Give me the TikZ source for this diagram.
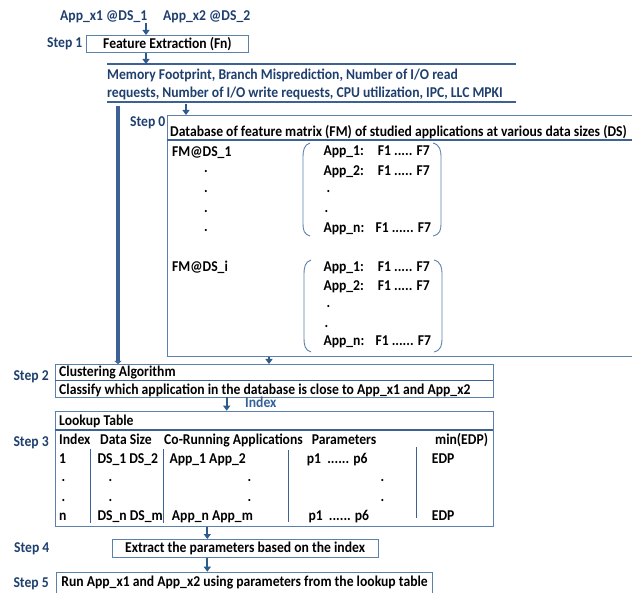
\documentclass[tikz,border=0pt]{standalone}
\usepackage{fontspec}
\setmainfont{Carlito}[FakeStretch=0.91]
\usetikzlibrary{arrows.meta}
\definecolor{stepblue}{HTML}{1F3F6E}
\definecolor{boxblue}{HTML}{5B80AA}
\definecolor{lineblue}{HTML}{3B6293}
\definecolor{arrblue}{HTML}{2F5A8C}
\definecolor{idxblue}{HTML}{34609A}
\begin{document}
\begin{tikzpicture}[x=1pt, y=-1pt,
    every node/.style={font=\fontsize{15}{17}\selectfont\bfseries},
    txt/.style={anchor=base west, inner sep=0pt},
    stp/.style={txt, text=stepblue},
    box/.style={draw=boxblue, line width=0.8pt, anchor=north west, inner sep=0pt},
    arr/.style={draw=arrblue, line width=2.2pt, -{Triangle[length=5pt, width=7pt]}},
    bar/.style={draw=lineblue, line width=4pt, -{Triangle[length=3pt, width=7pt]}},
    divline/.style={draw=lineblue, line width=1.6pt},
    colline/.style={draw=lineblue, line width=1.3pt},
    brk/.style={draw=boxblue, line width=0.9pt}]
\useasboundingbox (0,0) rectangle (632,593);
% inputs and step 1
\node[stp] (x1) at (60,21) {App\_x1 @DS\_1};
\node[stp] (x2) at (163,21) {App\_x2 @DS\_2};
\coordinate (x1s) at (146,23);
\node[stp] (s1) at (47,48) {Step 1};
\node[box, minimum width=162pt, minimum height=17pt] (fe) at (86,35) {Feature Extraction (Fn)};
\draw[arr] (x1s) -- (x1s |- fe.north);
% features
\coordinate (ft) at (146,64);
\draw[divline] (107,64) -- (516,64);
\node[stp] (f1) at (107,79.5) {Memory Footprint, Branch Misprediction, Number of I/O read};
\node[stp] (f2) at (107,97.5) {requests, Number of I/O write requests, CPU utilization, IPC, LLC MPKI};
\draw[divline] (107,102) -- (516,102);
\coordinate (fb) at (186,104);
\coordinate (bt) at (118,106);
\draw[arr] (fe.south -| x1s) -- (ft);
% step 0: database
\node[stp] (s0) at (130,127) {Step 0};
\node[box, minimum width=480pt, minimum height=241pt] (db) at (167,115) {};
\node[txt] (dbt) at (170,136.5) {Database of feature matrix (FM) of studied applications at various data sizes (DS)};
\draw[divline] (167,140) -- (632,140);
\draw[arr] (fb) -- (fb |- db.north);
\node[txt] (fm1) at (172,157) {FM@DS\_1};
\foreach \y in {173,193,213,231.5}
  \node[txt] (fmd\y) at (204,\y) {.};
\node[txt] (fmi) at (172,272) {FM@DS\_i};
% first matrix
\draw[brk] (310,143) .. controls (304,145) and (303,150) .. (303,158) -- (303,222) .. controls (303,231) and (304,234) .. (310,236);
\draw[brk] (433,143) .. controls (440,145) and (441,150) .. (441,158) -- (441,222) .. controls (441,231) and (440,234) .. (433,236);
\node[txt] (a11) at (323.3,156) {\makebox[54.4pt][l]{App\_1:}F1 ..... F7};
\node[txt] (a12) at (323.3,175.5) {\makebox[54.4pt][l]{App\_2:}F1 ..... F7};
\node[txt] (a1d1) at (326.5,193) {.};
\node[txt] (a1d2) at (324.5,212.5) {.};
\node[txt] (a1n) at (323.3,232.5) {\makebox[52pt][l]{App\_n:}F1 ...... F7};
% second matrix
\draw[brk] (311,260) .. controls (305,262) and (304,267) .. (304,275) -- (304,337) .. controls (304,346) and (305,350) .. (311,352);
\draw[brk] (434,260) .. controls (441,262) and (442,267) .. (442,275) -- (442,337) .. controls (442,346) and (441,350) .. (434,352);
\node[txt] (a21) at (323.3,272) {\makebox[54.4pt][l]{App\_1:}F1 ..... F7};
\node[txt] (a22) at (323.3,291) {\makebox[54.4pt][l]{App\_2:}F1 ..... F7};
\node[txt] (a2d1) at (326.5,308) {.};
\node[txt] (a2d2) at (324.5,328) {.};
\node[txt] (a2n) at (323.3,346) {\makebox[52pt][l]{App\_n:}F1 ...... F7};
% step 2: clustering
\node[stp] (s2) at (13.3,380.7) {Step 2};
\node[box, minimum width=438pt, minimum height=32.7pt] (cl) at (55.3,364) {};
\draw[divline] (55.3,380.7) -- (493.3,380.7);
\node[txt] (clt) at (59,376.7) {Clustering Algorithm};
\node[txt] (clc) at (59,394.5) {Classify which application in the database is close to App\_x1 and App\_x2};
\draw[bar] (bt) -- (bt |- cl.north);
\draw[arr] (db.south -| 269,0) -- (cl.north -| 269,0);
% step 3: lookup table
\node[stp] (s3) at (13.3,446.7) {Step 3};
\node[box, minimum width=438pt, minimum height=115.3pt] (lt) at (55.3,410.7) {};
\draw[divline] (55.3,430) -- (493.3,430);
\draw[arr] (cl.south -| 226.7,0) -- (lt.north -| 226.7,0);
\node[txt, text=idxblue] (idx) at (245,408) {Index};
\node[txt] (ltt) at (59,425) {Lookup Table};
\node[txt] (h1) at (59,444.3) {Index};
\node[txt] (h2) at (100,444.3) {Data Size};
\node[txt] (h3) at (164,444.3) {Co-Running Applications};
\node[txt] (h4) at (311.7,444.3) {Parameters};
\node[txt] (h5) at (435,444.3) {min(EDP)};
\node[txt] (r11) at (59,463.3) {1};
\node[txt] (r12) at (97.3,463.3) {DS\_1 DS\_2};
\node[txt] (r13) at (169.3,463.3) {App\_1 App\_2};
\node[txt] (r14) at (306.7,463.3) {p1 \ ...... p6};
\node[txt] (r15) at (431.7,463.3) {EDP};
\foreach \y in {482,501.5} {
  \node[txt] (di\y) at (61.5,\y) {.};
  \node[txt] (dd\y) at (108.5,\y) {.};
  \node[txt] (dc\y) at (247.5,\y) {.};
  \node[txt] (dp\y) at (380.5,\y) {.};
}
\node[txt] (rn1) at (59,520.7) {n};
\node[txt] (rn2) at (97.3,520.7) {DS\_n DS\_m};
\node[txt] (rn3) at (171.7,520.7) {App\_n App\_m};
\node[txt] (rn4) at (308.3,520.7) {p1 \ ...... p6};
\node[txt] (rn5) at (431.7,520.7) {EDP};
\draw[colline] (90.7,449) -- (90.7,522.7);
\draw[colline] (163.3,449) -- (163.3,522.7);
\draw[colline] (288.3,450) -- (288.3,522);
\draw[colline] (416.7,447) -- (416.7,518);
% step 4 and 5
\node[stp] (s4) at (14,552.3) {Step 4};
\node[box, minimum width=266pt, minimum height=18.3pt] (ex) at (111.7,539) {Extract the parameters based on the index};
\draw[arr] (lt.south -| 207.3,0) -- (ex.north -| 207.3,0);
\node[stp] (s5) at (13.3,587.7) {Step 5};
\node[box, minimum width=376.3pt, minimum height=21pt] (run) at (56,571.7) {Run App\_x1 and App\_x2 using parameters from the lookup table};
\draw[arr] (ex.south -| 207.3,0) -- (run.north -| 207.3,0);
\end{tikzpicture}
\end{document}
